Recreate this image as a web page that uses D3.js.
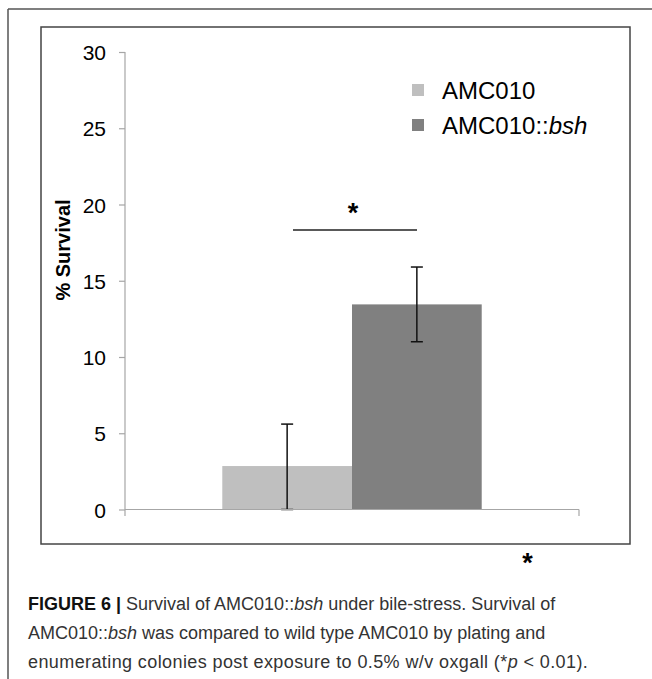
<!DOCTYPE html>
<html>
<head>
<meta charset="utf-8">
<script src="https://cdn.jsdelivr.net/npm/d3@7"></script>
<style>
  body { margin: 0; background: #fff; }
  svg text { font-family: "Liberation Sans", Arial, sans-serif; }
</style>
</head>
<body>
<div id="chart"></div>
<script>
// data
const categories = [""];
const seriesNames = ["AMC010", "AMC010::bsh"];
const survival = [2.85, 13.45];
const errLow = [0.0, 11.0];
const errHigh = [5.6, 15.9];
const yTicks = [0, 5, 10, 15, 20, 25, 30];
const colors = ["#bfbfbf", "#808080"];

const width = 652, height = 679;

const svg = d3.select("#chart").append("svg")
    .attr("width", width)
    .attr("height", height);

// page frame (top + left rules)
svg.append("line").attr("x1", 8).attr("x2", width).attr("y1", 9).attr("y2", 9)
    .attr("stroke", "#555").attr("stroke-width", 1.5);
svg.append("line").attr("x1", 8).attr("x2", 8).attr("y1", 9).attr("y2", height)
    .attr("stroke", "#555").attr("stroke-width", 1.5);

// chart box
svg.append("rect")
    .attr("x", 41).attr("y", 27)
    .attr("width", 589).attr("height", 517)
    .attr("fill", "none").attr("stroke", "#444").attr("stroke-width", 1.5);

// scales
let y = d3.scaleLinear().domain([0, 30]).range([509.5, 52]);
let x = d3.scaleBand().domain(categories).range([125, 579]);
let xs = d3.scaleBand().domain(seriesNames).range([0, x.bandwidth()])
    .paddingInner(0).paddingOuter(0.75);

// bars
let g = svg.append("g");
g.selectAll("rect.bar")
    .data(survival)
    .enter().append("rect")
    .attr("class", "bar")
    .attr("x", (d, i) => x(categories[0]) + xs(seriesNames[i]))
    .attr("width", xs.bandwidth())
    .attr("y", d => y(d))
    .attr("height", d => y(0) - y(d))
    .attr("fill", (d, i) => colors[i]);

// y axis
let yAxis = d3.axisLeft(y).tickValues(yTicks).tickSize(6).tickPadding(13);
let yg = svg.append("g").attr("transform", "translate(125,0)").call(yAxis);
yg.select(".domain").remove();
yg.selectAll(".tick line").attr("stroke", "#a6a6a6").attr("stroke-width", 1.2);
yg.selectAll(".tick text").attr("font-size", 21).attr("fill", "#000")
    .attr("font-family", "Liberation Sans, Arial, sans-serif")
    .attr("dy", "0.36em");
svg.append("line")
    .attr("x1", 125).attr("x2", 125)
    .attr("y1", y(30)).attr("y2", y(0) + 6.5)
    .attr("stroke", "#a6a6a6").attr("stroke-width", 1.2);

// x axis (category edges get the ticks)
let xRange = x.range();
svg.append("line")
    .attr("x1", xRange[0]).attr("x2", xRange[1])
    .attr("y1", y(0)).attr("y2", y(0))
    .attr("stroke", "#a6a6a6").attr("stroke-width", 1.2);
svg.append("line")
    .attr("x1", xRange[1]).attr("x2", xRange[1])
    .attr("y1", y(0)).attr("y2", y(0) + 6.5)
    .attr("stroke", "#a6a6a6").attr("stroke-width", 1.2);

// error bars
let capW = 6;
survival.forEach(function(d, i) {
    let cx = x(categories[0]) + xs(seriesNames[i]) + xs.bandwidth() / 2;
    g.append("line").attr("x1", cx).attr("x2", cx)
        .attr("y1", y(errLow[i])).attr("y2", y(errHigh[i]))
        .attr("stroke", "#111").attr("stroke-width", 1.5);
    [errLow[i], errHigh[i]].forEach(function(v) {
        g.append("line").attr("x1", cx - capW).attr("x2", cx + capW)
            .attr("y1", y(v)).attr("y2", y(v))
            .attr("stroke", "#111").attr("stroke-width", 1.5);
    });
});

// significance bracket
svg.append("line")
    .attr("x1", 293).attr("x2", 417).attr("y1", 230).attr("y2", 230)
    .attr("stroke", "#222").attr("stroke-width", 1.5);
svg.append("text")
    .attr("x", 353).attr("y", 222)
    .attr("text-anchor", "middle")
    .attr("font-size", 27).attr("font-weight", "bold")
    .text("*");

// y label
svg.append("text")
    .attr("transform", "translate(70,250) rotate(-90)")
    .attr("text-anchor", "middle")
    .attr("font-size", 20).attr("font-weight", "bold")
    .text("% Survival");

// legend
let legend = svg.append("g");
seriesNames.forEach(function(name, i) {
    let ly = 84 + i * 35;
    legend.append("rect")
        .attr("x", 412).attr("y", ly)
        .attr("width", 12).attr("height", 12)
        .attr("fill", colors[i]);
    let t = legend.append("text")
        .attr("x", 442).attr("y", ly + 15)
        .attr("font-size", 24);
    let parts = name.split("::");
    t.append("tspan").text(parts[0] + (parts.length > 1 ? "::" : ""));
    if (parts.length > 1) t.append("tspan").attr("font-style", "italic").text(parts[1]);
});

// stray asterisk below the box
svg.append("text")
    .attr("x", 527.5).attr("y", 572)
    .attr("text-anchor", "middle")
    .attr("font-size", 27).attr("font-weight", "bold")
    .text("*");

// caption
let caption = svg.append("text")
    .attr("x", 28).attr("y", 610)
    .attr("font-size", 18).attr("fill", "#333");
let l1 = caption.append("tspan").attr("x", 28).attr("y", 610);
l1.append("tspan").attr("font-weight", "bold").attr("fill", "#111").text("FIGURE 6 | ");
l1.append("tspan").text("Survival of AMC010::");
l1.append("tspan").attr("font-style", "italic").text("bsh");
l1.append("tspan").text(" under bile-stress. Survival of");
let l2 = caption.append("tspan").attr("x", 28).attr("y", 639);
l2.append("tspan").text("AMC010::");
l2.append("tspan").attr("font-style", "italic").text("bsh");
l2.append("tspan").text(" was compared to wild type AMC010 by plating and");
let l3 = caption.append("tspan").attr("x", 28).attr("y", 668).attr("letter-spacing", 0.4);
l3.append("tspan").text("enumerating colonies post exposure to 0.5% w/v oxgall (*");
l3.append("tspan").attr("font-style", "italic").text("p");
l3.append("tspan").text(" < 0.01).");
</script>
</body>
</html>
